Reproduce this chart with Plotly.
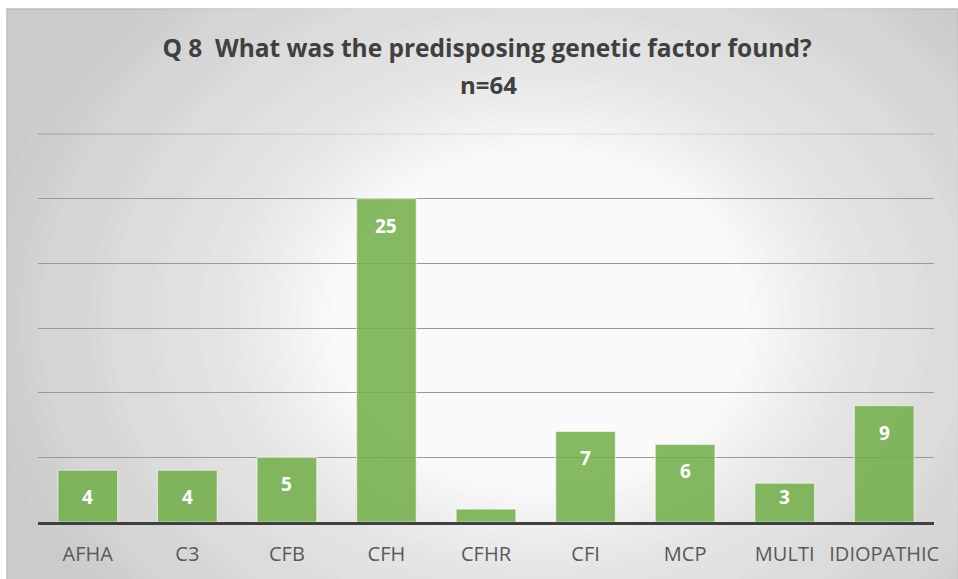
import plotly.graph_objects as go

# data
categories = ["AFHA", "C3", "CFB", "CFH", "CFHR", "CFI", "MCP", "MULTI", "IDIOPATHIC"]
counts = [4, 4, 5, 25, 1, 7, 6, 3, 9]
title_text = "Q 8  What was the predisposing genetic factor found?"
subtitle_text = "n=64"

W, H = 958, 579
L, R, T, B = 38, 24, 134, 57
plot_w = W - L - R
plot_h = H - T - B
y_max = 30
grid_color = "#9a9a9a"


def px_x(p):
    return (p - L) / plot_w


def px_y(p):
    return (H - B - p) / plot_h


def glow(layer, p_end, n=36, cx=540, cy=320):
    # concentric white ellipses whose combined opacity ramps linearly to 1 - p_end
    out = []
    prev = 1.0
    for k in range(1, n + 1):
        cur = 1 - (1 - p_end) * k / n
        a = 1 - cur / prev
        prev = cur
        rx = 560 - (k - 1) * 10
        ry = rx * 0.8
        out.append(dict(type="circle", xref="paper", yref="paper", layer=layer,
                        x0=px_x(cx - rx), x1=px_x(cx + rx),
                        y0=px_y(cy + ry), y1=px_y(cy - ry),
                        fillcolor=f"rgba(255,255,255,{a:.4f})", line=dict(width=0)))
    return out


fig = go.Figure()

fig.add_trace(go.Bar(
    x=categories,
    y=counts,
    marker=dict(color="rgba(112,173,71,0.85)",
                line=dict(color="rgba(255,255,255,0.55)", width=1.2)),
    hoverinfo="x+y",
    showlegend=False,
))

# value labels inside the bar tops (the CFHR bar is too short to carry one)
unit_px = plot_h / y_max
for cat, v in zip(categories, counts):
    if v < 2:
        continue
    shift = min(27, v * unit_px - 25)
    fig.add_annotation(x=cat, y=v, text=f"<b>{v}</b>", showarrow=False,
                       yshift=-shift, yanchor="middle",
                       font=dict(family="Open Sans", size=19, color="white"))

# chart frame, grey at the edges
shapes = [dict(type="rect", xref="paper", yref="paper", layer="below",
               x0=px_x(7), x1=px_x(958), y0=px_y(590), y1=px_y(9),
               fillcolor="#cbcbcb", line=dict(color="#bdbdbd", width=1.5))]
shapes += glow("below", 0.07)
# top gridline (value 30) sits on the plot edge
shapes.append(dict(type="line", xref="paper", yref="paper", layer="below",
                   x0=0, x1=1, y0=1, y1=1, line=dict(color=grid_color, width=1)))
# part of the glow goes over the gridlines, fading them towards the centre
shapes += glow("between", 0.28)

fig.add_annotation(text=f"<b>{subtitle_text}</b>", xref="paper", yref="paper",
                   x=px_x(488), y=px_y(84), showarrow=False,
                   xanchor="center", yanchor="middle",
                   font=dict(family="Open Sans", size=24, color="#404040"))

fig.update_layout(
    width=W, height=H,
    margin=dict(l=L, r=R, t=T, b=B),
    paper_bgcolor="white",
    plot_bgcolor="rgba(0,0,0,0)",
    shapes=shapes,
    bargap=0.4,
    title=dict(text=f"<b>{title_text}</b>", x=487 / W, y=1 - 48 / H,
               xanchor="center", yanchor="middle",
               font=dict(family="Open Sans", size=24.5, color="#404040")),
    xaxis=dict(showline=True, linecolor="#404040", linewidth=3,
               ticks="", showgrid=False, ticklabelstandoff=12,
               tickfont=dict(family="Open Sans", size=20, color="#595959")),
    yaxis=dict(range=[0, y_max], dtick=5, showticklabels=False,
               showgrid=True, gridcolor=grid_color, gridwidth=1,
               zeroline=False, showline=False),
)

fig.write_html("out.html", config={"displayModeBar": False},
               post_script="document.body.style.margin='0';")
